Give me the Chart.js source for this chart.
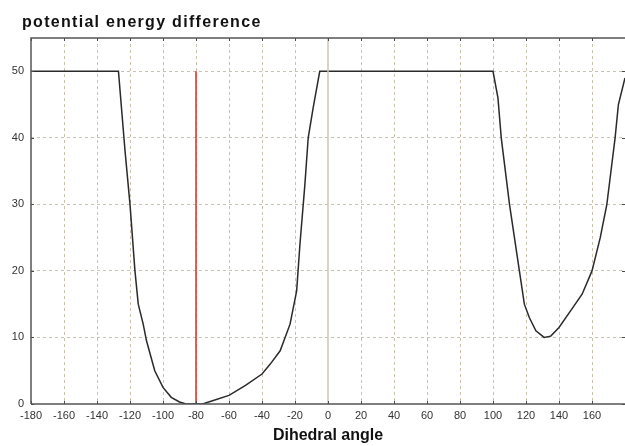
<!DOCTYPE html>
<html>
<head>
<meta charset="utf-8">
<script src="https://cdn.jsdelivr.net/npm/chart.js@4"></script>
<style>
  html, body { margin: 0; padding: 0; background: #fff; }
  #wrap { width: 625px; height: 446px; }
</style>
</head>
<body>
<div id="wrap"><canvas id="energyChart" width="625" height="446"></canvas></div>
<script>
// values
const chartTitle = 'potential energy difference';
const xTitle = 'Dihedral angle';

const angles = [-180, -127, -125, -123, -120, -117, -115, -112, -110, -105, -100, -95, -90, -86,
  -76, -70, -60, -50, -40, -35, -29, -23, -19, -17, -14, -12, -9, -5,
  100, 103, 105, 110, 116, 119, 122, 126, 131, 135, 140, 147, 154, 160, 165, 169, 171, 174, 176, 180];
const energy = [50, 50, 44, 38, 30, 20, 15, 12, 9.5, 5, 2.5, 1, 0.3, 0,
  0, 0.5, 1.3, 2.8, 4.5, 6, 8, 12, 17, 24, 33, 40, 44.5, 50,
  50, 46, 40, 30, 20, 15, 13, 11, 10, 10.2, 11.5, 14, 16.5, 20, 25, 30, 34, 40, 45, 49];

const markerAngle = -80;
const markerRange = [0, 50];
const zeroAngle = 0;

const xMin = -180, xMax = 180, xStep = 20;
const yMin = 0, yMax = 55, yStep = 10;

const curve = angles.map((a, i) => ({ x: a, y: energy[i] }));
const markerLine = markerRange.map(v => ({ x: markerAngle, y: v }));
const zeroLine = [yMin, yMax].map(v => ({ x: zeroAngle, y: v }));

const framePlugin = {
  id: 'frame',
  afterDatasetsDraw(chart) {
    const { ctx, chartArea: a, scales: { x, y } } = chart;
    ctx.save();
    ctx.strokeStyle = '#4a4a4a';
    ctx.lineWidth = 1;
    ctx.beginPath();
    x.ticks.forEach(t => {
      const px = Math.round(x.getPixelForValue(t.value)) + 0.5;
      ctx.moveTo(px, a.bottom); ctx.lineTo(px, a.bottom - 3);
      ctx.moveTo(px, a.top); ctx.lineTo(px, a.top + 3);
    });
    y.ticks.forEach(t => {
      const py = Math.round(y.getPixelForValue(t.value)) + 0.5;
      ctx.moveTo(a.left, py); ctx.lineTo(a.left + 3, py);
      ctx.moveTo(a.right, py); ctx.lineTo(a.right - 3, py);
    });
    ctx.stroke();
    ctx.lineWidth = 1.5;
    ctx.strokeStyle = '#555';
    ctx.beginPath();
    ctx.moveTo(a.left, a.bottom);
    ctx.lineTo(a.left, a.top);
    ctx.lineTo(a.right, a.top);
    ctx.moveTo(a.left, a.bottom);
    ctx.lineTo(a.right, a.bottom);
    ctx.stroke();
    ctx.restore();
  },
  afterDraw(chart) {
    const ctx = chart.ctx;
    ctx.save();
    ctx.font = 'bold 16px "Liberation Sans", Arial, sans-serif';
    ctx.fillStyle = '#111';
    ctx.textBaseline = 'alphabetic';
    ctx.letterSpacing = '1.3px';
    ctx.fillText(chartTitle, 22, 27);
    ctx.restore();
  }
};

new Chart(document.getElementById('energyChart'), {
  type: 'line',
  data: {
    datasets: [
      {
        data: zeroLine,
        borderColor: '#ccc6b2',
        borderWidth: 1.5,
        pointRadius: 0
      },
      {
        data: curve,
        borderColor: '#2a2a2a',
        borderWidth: 1.5,
        pointRadius: 0,
        tension: 0
      },
      {
        data: markerLine,
        borderColor: '#e8261e',
        borderWidth: 1.5,
        pointRadius: 0
      }
    ]
  },
  options: {
    responsive: false,
    animation: false,
    layout: { padding: { top: 38, left: 0, right: 0, bottom: 0 } },
    plugins: {
      legend: { display: false },
      title: { display: false },
      tooltip: { enabled: false }
    },
    scales: {
      x: {
        type: 'linear',
        min: xMin,
        max: xMax,
        afterFit: s => { s.height = 42; s.paddingRight = 0; s.paddingLeft = 0; },
        ticks: {
          stepSize: xStep,
          autoSkip: false,
          maxRotation: 0,
          padding: 5,
          color: '#333',
          font: { family: '"Liberation Sans", Arial, sans-serif', size: 11 },
          callback: v => (v === xMax ? '' : v)
        },
        grid: {
          drawTicks: false,
          color: c => (c.tick && (c.tick.value === zeroAngle || c.tick.value === xMin) ? 'rgba(0,0,0,0)' : '#c9c2ad'),
          lineWidth: 1
        },
        border: { display: false, dash: [3, 3] },
        title: {
          display: true,
          text: xTitle,
          color: '#111',
          padding: { top: 0, bottom: 1 },
          font: { family: '"Liberation Sans", Arial, sans-serif', size: 16, weight: 'bold' }
        }
      },
      y: {
        min: yMin,
        max: yMax,
        afterFit: s => { s.width = 31; s.paddingTop = 0; s.paddingBottom = 0; },
        ticks: {
          stepSize: yStep,
          includeBounds: false,
          padding: 7,
          color: '#333',
          font: { family: '"Liberation Sans", Arial, sans-serif', size: 11 }
        },
        grid: {
          drawTicks: false,
          color: c => (c.tick && c.tick.value === yMin ? 'rgba(0,0,0,0)' : '#c9c2ad'),
          lineWidth: 1
        },
        border: { display: false, dash: [3, 3] }
      }
    }
  },
  plugins: [framePlugin]
});
</script>
</body>
</html>
